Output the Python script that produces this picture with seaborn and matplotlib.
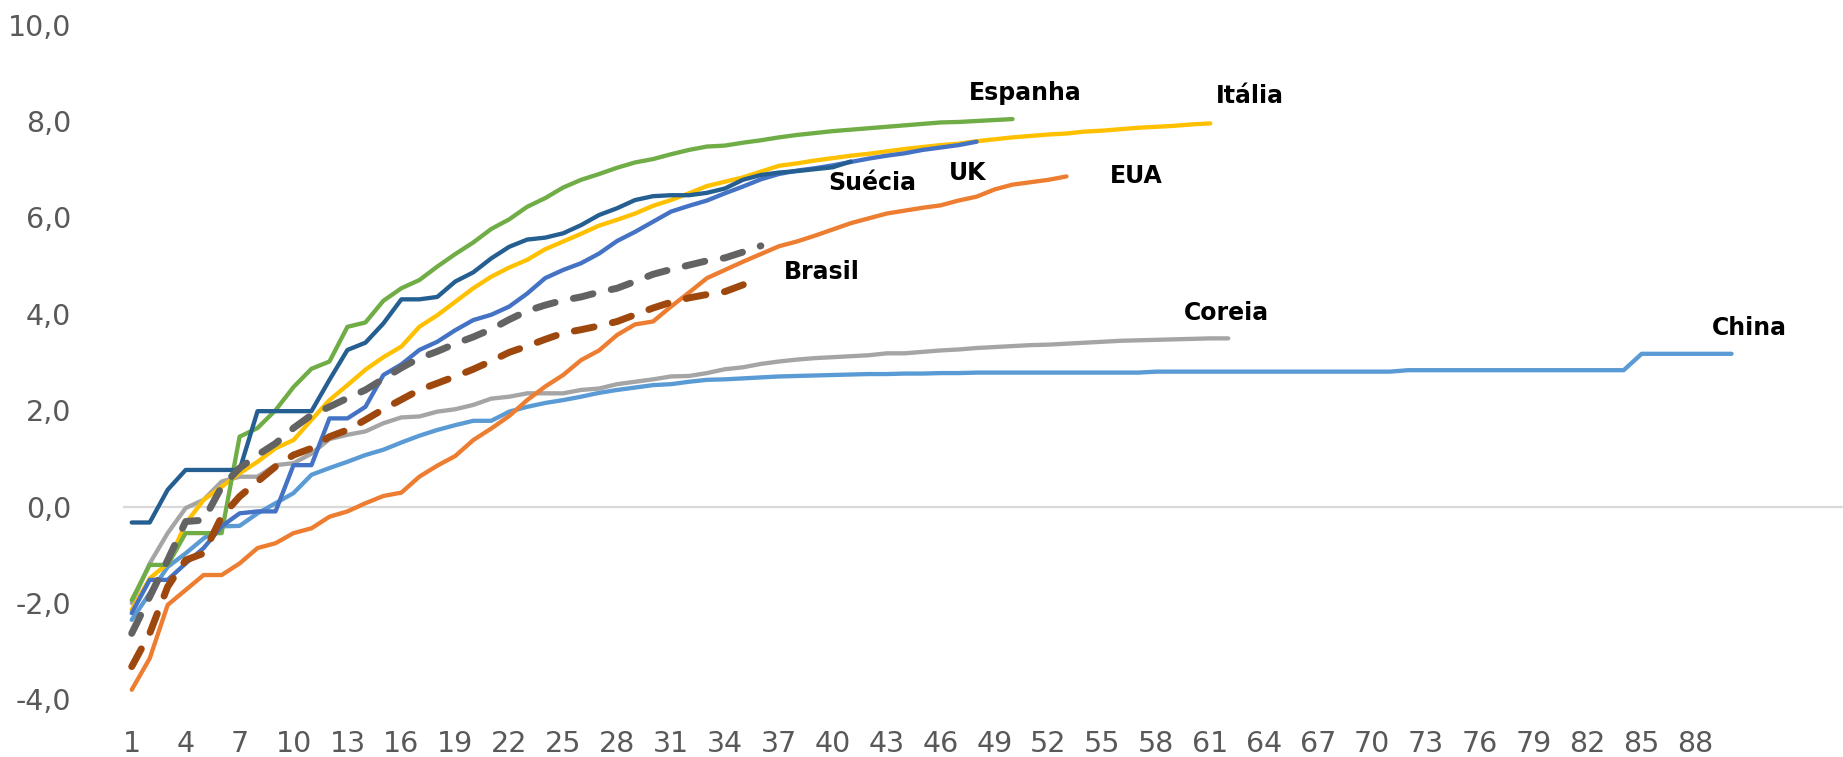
import matplotlib
matplotlib.use("Agg")
import matplotlib.pyplot as plt
import seaborn as sns
import pandas as pd

# dias desde o início (eixo x) e log das mortes por país
espanha = [-1.94, -1.21, -1.21, -0.55, -0.55, -0.55, 1.45, 1.63, 2.00, 2.48,
           2.86, 3.01, 3.73, 3.82, 4.27, 4.53, 4.70, 4.98, 5.24, 5.48,
           5.76, 5.96, 6.22, 6.40, 6.62, 6.78, 6.90, 7.03, 7.14, 7.21,
           7.31, 7.40, 7.47, 7.49, 7.55, 7.60, 7.66, 7.71, 7.75, 7.79,
           7.82, 7.85, 7.88, 7.91, 7.94, 7.97, 7.98, 8.00, 8.02, 8.04]
italia = [-2.14, -1.49, -1.18, -0.35, 0.14, 0.41, 0.69, 0.93, 1.21, 1.38,
          1.80, 2.21, 2.52, 2.84, 3.10, 3.32, 3.73, 3.97, 4.25, 4.53,
          4.77, 4.96, 5.12, 5.34, 5.50, 5.66, 5.83, 5.95, 6.08, 6.24,
          6.36, 6.50, 6.65, 6.74, 6.83, 6.95, 7.07, 7.12, 7.18, 7.23,
          7.28, 7.32, 7.37, 7.42, 7.46, 7.50, 7.53, 7.58, 7.62, 7.66,
          7.69, 7.72, 7.74, 7.78, 7.80, 7.83, 7.86, 7.88, 7.90, 7.93, 7.95]
uk = [-2.21, -1.52, -1.52, -1.18, -0.86, -0.41, -0.14, -0.10, -0.10, 0.86,
      0.86, 1.83, 1.83, 2.07, 2.73, 2.95, 3.25, 3.42, 3.66, 3.87,
      3.98, 4.15, 4.42, 4.74, 4.91, 5.05, 5.25, 5.51, 5.70, 5.91,
      6.12, 6.24, 6.35, 6.50, 6.64, 6.79, 6.90, 6.97, 7.02, 7.08,
      7.15, 7.22, 7.28, 7.33, 7.40, 7.45, 7.50, 7.57]
suecia = [-0.33, -0.33, 0.35, 0.76, 0.76, 0.76, 0.76, 1.98, 1.98, 1.98,
          1.98, 2.63, 3.25, 3.40, 3.80, 4.30, 4.30, 4.35, 4.67, 4.86,
          5.15, 5.39, 5.54, 5.58, 5.67, 5.84, 6.05, 6.19, 6.36, 6.44,
          6.46, 6.46, 6.51, 6.60, 6.78, 6.88, 6.93, 6.96, 7.00, 7.04, 7.16]
eua = [-3.80, -3.15, -2.04, -1.73, -1.42, -1.42, -1.18, -0.86, -0.76, -0.55,
       -0.45, -0.21, -0.10, 0.07, 0.22, 0.29, 0.62, 0.85, 1.05, 1.38,
       1.62, 1.88, 2.21, 2.49, 2.73, 3.04, 3.24, 3.56, 3.78, 3.84,
       4.15, 4.44, 4.74, 4.91, 5.08, 5.24, 5.40, 5.50, 5.62, 5.75,
       5.88, 5.98, 6.08, 6.14, 6.20, 6.25, 6.35, 6.43, 6.58, 6.68,
       6.73, 6.78, 6.85]
coreia = [-2.00, -1.18, -0.55, -0.03, 0.14, 0.52, 0.62, 0.62, 0.86, 0.90,
          1.10, 1.40, 1.49, 1.56, 1.73, 1.85, 1.87, 1.97, 2.02, 2.11,
          2.24, 2.28, 2.35, 2.35, 2.35, 2.42, 2.45, 2.54, 2.59, 2.64,
          2.70, 2.71, 2.77, 2.85, 2.89, 2.96, 3.01, 3.05, 3.08, 3.10,
          3.12, 3.14, 3.18, 3.18, 3.21, 3.24, 3.26, 3.29, 3.31, 3.33,
          3.35, 3.36, 3.38, 3.40, 3.42, 3.44, 3.45, 3.46, 3.47, 3.48,
          3.49, 3.49]
china = [-2.35, -1.80, -1.25, -0.97, -0.66, -0.41, -0.40, -0.14, 0.07, 0.28,
         0.66, 0.80, 0.93, 1.07, 1.18, 1.33, 1.47, 1.59, 1.69, 1.78,
         1.78, 1.97, 2.07, 2.15, 2.21, 2.28, 2.36, 2.42, 2.47, 2.52,
         2.54, 2.59, 2.63, 2.64, 2.66, 2.68, 2.70, 2.71, 2.72, 2.73,
         2.74, 2.75, 2.75, 2.76, 2.76, 2.77, 2.77, 2.78, 2.78, 2.78,
         2.78, 2.78, 2.78, 2.78, 2.78, 2.78, 2.78, 2.80, 2.80, 2.80,
         2.80, 2.80, 2.80, 2.80, 2.80, 2.80, 2.80, 2.80, 2.80, 2.80,
         2.80, 2.83, 2.83, 2.83, 2.83, 2.83, 2.83, 2.83, 2.83, 2.83,
         2.83, 2.83, 2.83, 2.83, 3.17, 3.17, 3.17, 3.17, 3.17, 3.17]
brasil = [-3.32, -2.63, -1.66, -1.11, -0.97, -0.21, 0.21, 0.52, 0.83, 1.07,
          1.21, 1.45, 1.59, 1.80, 2.02, 2.22, 2.42, 2.56, 2.70, 2.85,
          3.02, 3.20, 3.33, 3.47, 3.60, 3.67, 3.75, 3.84, 3.98, 4.12,
          4.24, 4.33, 4.40, 4.46, 4.60, 4.73]
cinza_tracejado = [-2.63, -1.87, -1.11, -0.31, -0.28, 0.41, 0.80, 1.07, 1.31, 1.63,
                   1.90, 2.07, 2.25, 2.42, 2.65, 2.88, 3.08, 3.22, 3.38, 3.52,
                   3.68, 3.88, 4.06, 4.18, 4.28, 4.35, 4.45, 4.53, 4.67, 4.82,
                   4.92, 5.01, 5.10, 5.16, 5.28, 5.41]

series = [
    ("Coreia", coreia, "#A5A5A5", False),
    ("China", china, "#5B9BD5", False),
    ("EUA", eua, "#ED7D31", False),
    ("Itália", italia, "#FFC000", False),
    ("Espanha", espanha, "#70AD47", False),
    ("UK", uk, "#4472C4", False),
    ("Suécia", suecia, "#255E91", False),
    ("Outro", cinza_tracejado, "#636363", True),
    ("Brasil", brasil, "#9E480E", True),
]

# posição dos rótulos (dia, valor)
rotulos = {
    "Espanha": (50.7, 8.58), "Itália": (63.2, 8.52), "Suécia": (42.2, 6.71),
    "UK": (47.5, 6.92), "EUA": (56.9, 6.86), "Brasil": (39.4, 4.87),
    "Coreia": (61.9, 4.01), "China": (91.0, 3.70),
}

yticks = [-4, -2, 0, 2, 4, 6, 8, 10]
ytick_labels = [f"{v:.1f}".replace(".", ",") for v in yticks]
xticks = list(range(1, 89, 3))

sns.set_style("white")
plt.rcParams["font.family"] = ["DejaVu Sans"]

fig = plt.figure(figsize=(18.43, 7.57), dpi=100)
ax = fig.add_axes([0.0666, 0.0761, 0.9334, 0.8914])

ax.axhline(0, color="#D9D9D9", lw=1.6, zorder=0)

for nome, vals, cor, tracejado in series:
    df = pd.DataFrame({"dia": range(1, len(vals) + 1), "valor": vals})
    if tracejado:
        sns.lineplot(data=df, x="dia", y="valor", ax=ax, color=cor, linewidth=5.0,
                     linestyle=(0, (2.9, 2.7)), dash_capstyle="round")
    else:
        sns.lineplot(data=df, x="dia", y="valor", ax=ax, color=cor, linewidth=3.1,
                     solid_capstyle="round", solid_joinstyle="round")

for nome, (x, y) in rotulos.items():
    ax.text(x, y, nome, ha="center", va="center", fontsize=17,
            fontweight="bold", color="black")

ax.set_xlim(0.5, 96.2)
ax.set_ylim(-4, 10)
ax.set_yticks(yticks)
ax.set_yticklabels(ytick_labels)
ax.set_xticks(xticks)
ax.set_xticklabels([str(t) for t in xticks])
ax.tick_params(axis="y", length=0, pad=37, labelsize=20.5, labelcolor="#595959")
ax.tick_params(axis="x", length=0, pad=22, labelsize=20.5, labelcolor="#595959")
ax.set_xlabel("")
ax.set_ylabel("")
for s in ax.spines.values():
    s.set_visible(False)
ax.grid(False)

fig.savefig("out.png", dpi=100)
